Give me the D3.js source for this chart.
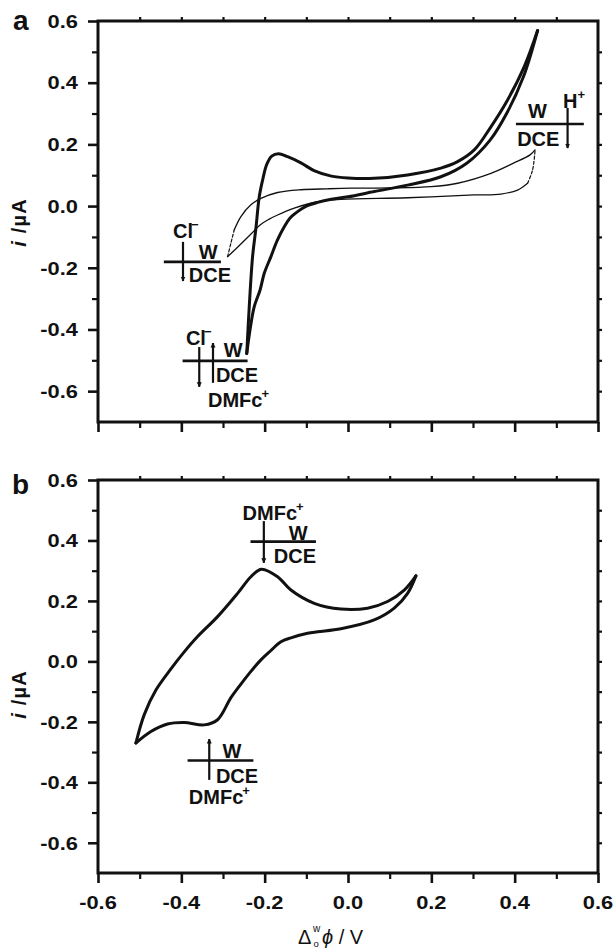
<!DOCTYPE html>
<html><head><meta charset="utf-8">
<script src="https://cdn.jsdelivr.net/npm/d3@7"></script>
<style>
body{margin:0;background:#fff}
svg{display:block}
text{font-family:"Liberation Sans",Arial,Helvetica,sans-serif;fill:#111}
</style></head><body>
<svg id="chart" width="615" height="950"></svg>
<script>
// ---------------- data ----------------
const xMajor = [-0.6, -0.4, -0.2, 0.0, 0.2, 0.4, 0.6];
const xMinor = [-0.5, -0.3, -0.1, 0.1, 0.3, 0.5];
const yMajor = [0.6, 0.4, 0.2, 0.0, -0.2, -0.4, -0.6];
const yMinor = [0.5, 0.3, 0.1, -0.1, -0.3, -0.5];
const xFine = [-0.5, -0.4, -0.3, -0.2, -0.1, 0.0, 0.1, 0.2, 0.3, 0.4, 0.5];
const yFine = [0.5, 0.4, 0.3, 0.2, 0.1, 0.0, -0.1, -0.2, -0.3, -0.4, -0.5, -0.6];
const xTickLabels = ["-0.6", "-0.4", "-0.2", "0.0", "0.2", "0.4", "0.6"];
const yTickLabels = ["0.6", "0.4", "0.2", "0.0", "-0.2", "-0.4", "-0.6"];

// panel a: thick CV (with DMFc), forward and reverse scans
const aThickFwdE = [-0.243, -0.237, -0.229, -0.221, -0.213, -0.204, -0.195, -0.183, -0.167, -0.145, -0.113, -0.080, -0.040, 0.000, 0.063, 0.143, 0.223, 0.263, 0.303, 0.343, 0.383, 0.423, 0.455];
const aThickFwdI = [-0.478, -0.326, -0.164, -0.072, 0.030, 0.090, 0.135, 0.162, 0.170, 0.160, 0.140, 0.114, 0.097, 0.091, 0.090, 0.101, 0.123, 0.144, 0.182, 0.257, 0.344, 0.452, 0.569];
const aThickRevE = [0.455, 0.421, 0.381, 0.341, 0.285, 0.223, 0.143, 0.063, 0.000, -0.040, -0.073, -0.100, -0.121, -0.140, -0.153, -0.170, -0.185, -0.201, -0.211, -0.225, -0.235, -0.243];
const aThickRevI = [0.569, 0.419, 0.301, 0.214, 0.139, 0.095, 0.068, 0.047, 0.030, 0.022, 0.012, 0.000, -0.018, -0.040, -0.067, -0.112, -0.164, -0.218, -0.272, -0.326, -0.400, -0.478];
// panel a: thin CV (blank), upper and lower branches
const aThinUpE = [-0.289, -0.281, -0.273, -0.257, -0.233, -0.209, -0.169, -0.113, -0.050, 0.007, 0.100, 0.200, 0.263, 0.343, 0.397, 0.437, 0.449];
const aThinUpI = [-0.164, -0.120, -0.077, -0.034, 0.004, 0.025, 0.044, 0.053, 0.056, 0.058, 0.059, 0.063, 0.074, 0.106, 0.139, 0.166, 0.182];
const aThinLoE = [-0.289, -0.270, -0.251, -0.231, -0.211, -0.190, -0.169, -0.129, -0.073, -0.017, 0.143, 0.303, 0.367, 0.407, 0.431, 0.443, 0.449];
const aThinLoI = [-0.164, -0.140, -0.115, -0.088, -0.061, -0.043, -0.029, -0.007, 0.014, 0.022, 0.027, 0.036, 0.039, 0.052, 0.074, 0.117, 0.182];

// panel b: CV forward and reverse
const bFwdE = [-0.509, -0.489, -0.461, -0.425, -0.395, -0.361, -0.313, -0.265, -0.233, -0.208, -0.169, -0.137, -0.081, -0.017, 0.047, 0.095, 0.135, 0.163];
const bFwdI = [-0.270, -0.176, -0.095, -0.025, 0.028, 0.082, 0.148, 0.225, 0.280, 0.305, 0.280, 0.236, 0.192, 0.173, 0.176, 0.198, 0.236, 0.283];
const bRevE = [0.163, 0.143, 0.111, 0.063, -0.017, -0.073, -0.097, -0.137, -0.161, -0.185, -0.209, -0.233, -0.257, -0.281, -0.313, -0.345, -0.393, -0.433, -0.473, -0.509];
const bRevI = [0.283, 0.225, 0.176, 0.137, 0.108, 0.098, 0.093, 0.078, 0.065, 0.036, 0.005, -0.033, -0.075, -0.120, -0.193, -0.210, -0.202, -0.207, -0.232, -0.270];

// ---------------- setup ----------------
const svg = d3.select("#chart");
const x = d3.scaleLinear().domain([-0.6, 0.6]).range([98, 598]);
const yA = d3.scaleLinear().domain([-0.7, 0.6]).range([422, 21]);
const yB = d3.scaleLinear().domain([-0.7, 0.6]).range([873, 480]);

const defs = svg.append("defs");
defs.append("marker").attr("id", "ah").attr("viewBox", "0 0 10 10")
  .attr("refX", 9).attr("refY", 5).attr("markerWidth", 5).attr("markerHeight", 9)
  .attr("markerUnits", "userSpaceOnUse").attr("orient", "auto")
  .append("path").attr("d", "M0,0 L10,5 L0,10 Z").attr("fill", "#111");

const lineGen = y => d3.line().x(d => x(d[0])).y(d => y(d[1])).curve(d3.curveCatmullRom.alpha(0.5));

function drawCurve(g, y, pts, w, dash) {
  g.append("path").attr("d", lineGen(y)(pts)).attr("fill", "none")
    .attr("stroke", "#111").attr("stroke-width", w)
    .attr("stroke-linejoin", "round").attr("stroke-linecap", "round")
    .attr("stroke-dasharray", dash || null);
}

function drawFrame(y, showXLabels) {
  const g = svg.append("g");
  const [top, bottom] = [y(0.6), y(-0.7)];
  const lMaj = g.append("g").attr("transform", `translate(${x(-0.6)},0)`)
    .call(d3.axisLeft(y).tickValues(yMajor).tickSize(10).tickSizeOuter(0).tickFormat(""));
  const lMin = g.append("g").attr("transform", `translate(${x(-0.6)},0)`)
    .call(d3.axisLeft(y).tickValues(yMinor).tickSize(6).tickSizeOuter(0).tickFormat(""));
  const bMaj = g.append("g").attr("transform", `translate(0,${bottom})`)
    .call(d3.axisBottom(x).tickValues(xMajor).tickSize(10).tickSizeOuter(0).tickFormat(""));
  const bMin = g.append("g").attr("transform", `translate(0,${bottom})`)
    .call(d3.axisBottom(x).tickValues(xMinor).tickSize(6).tickSizeOuter(0).tickFormat(""));
  const rt = g.append("g").attr("transform", `translate(${x(0.6)},0)`)
    .call(d3.axisRight(y).tickValues(yFine).tickSize(4).tickSizeOuter(0).tickFormat(""));
  const tp = g.append("g").attr("transform", `translate(0,${top})`)
    .call(d3.axisTop(x).tickValues(xFine).tickSize(4).tickSizeOuter(0).tickFormat(""));
  g.selectAll(".domain").remove();
  g.selectAll(".tick line").attr("stroke", "#111").attr("stroke-width", 2.6);
  [lMin, bMin, rt, tp].forEach(s => s.selectAll(".tick line").attr("stroke-width", 2.2));
  g.append("rect").attr("x", x(-0.6)).attr("y", top)
    .attr("width", x(0.6) - x(-0.6)).attr("height", bottom - top)
    .attr("fill", "none").attr("stroke", "#111").attr("stroke-width", 3);
  yMajor.forEach((v, k) => {
    g.append("text").attr("transform", `translate(78,${y(v) + 6.8}) scale(1.15,1)`)
      .attr("text-anchor", "end").attr("font-size", 19).attr("font-weight", "bold")
      .text(yTickLabels[k]);
  });
  if (showXLabels) {
    xMajor.forEach((v, k) => {
      g.append("text").attr("transform", `translate(${x(v)},${bottom + 35.5}) scale(1.15,1)`)
        .attr("text-anchor", "middle").attr("font-size", 19).attr("font-weight", "bold")
        .text(xTickLabels[k]);
    });
  }
  const yt = g.append("text")
    .attr("transform", `translate(26,${(top + bottom) / 2 + (showXLabels ? 18 : 1)}) rotate(-90)`)
    .attr("text-anchor", "middle").attr("font-size", 20).attr("font-weight", "bold")
    .attr("letter-spacing", 1.2);
  yt.append("tspan").attr("font-style", "italic").text("i");
  yt.append("tspan").text(" /\u00b5A");
  return g;
}

function label(y, e, i, str, sup, supDx, supDy) {
  const t = svg.append("text").attr("x", x(e)).attr("y", y(i))
    .attr("font-size", 20).attr("font-weight", "bold").text(str);
  if (sup) t.append("tspan").attr("font-size", 13).attr("dx", supDx).attr("dy", supDy).text(sup);
}
function hline(y, e1, e2, i) {
  svg.append("line").attr("x1", x(e1)).attr("x2", x(e2)).attr("y1", y(i)).attr("y2", y(i))
    .attr("stroke", "#111").attr("stroke-width", 2.6);
}
function arrow(y, e, i1, i2) {
  svg.append("line").attr("x1", x(e)).attr("x2", x(e)).attr("y1", y(i1)).attr("y2", y(i2))
    .attr("stroke", "#111").attr("stroke-width", 2.2).attr("marker-end", "url(#ah)");
}

// ---------------- panel a ----------------
const gA = svg.append("g");
const zip = (a, b) => a.map((v, k) => [v, b[k]]);
const thinUp = zip(aThinUpE, aThinUpI), thinLo = zip(aThinLoE, aThinLoI);
drawCurve(gA, yA, thinUp.slice(2), 1.3);
drawCurve(gA, yA, thinUp.slice(0, 3), 1.2, "3,2");
drawCurve(gA, yA, thinLo.slice(0, 15), 1.3);
drawCurve(gA, yA, thinLo.slice(14), 1.2, "3,2");
drawCurve(gA, yA, zip(aThickFwdE, aThickFwdI), 3);
drawCurve(gA, yA, zip(aThickRevE, aThickRevI), 3);
drawFrame(yA, false);

label(yA, -0.420, -0.103, "Cl", "\u2212", -2, -9);
arrow(yA, -0.396, -0.116, -0.243);
hline(yA, -0.442, -0.305, -0.181);
label(yA, -0.358, -0.171, "W");
label(yA, -0.382, -0.246, "DCE");

label(yA, -0.389, -0.450, "Cl", "\u2212", -2, -9);
arrow(yA, -0.357, -0.457, -0.586);
arrow(yA, -0.324, -0.573, -0.444);
hline(yA, -0.397, -0.241, -0.502);
label(yA, -0.298, -0.489, "W");
label(yA, -0.317, -0.570, "DCE");
label(yA, -0.336, -0.651, "DMFc", "+", -1, -9);

label(yA, 0.432, 0.286, "W");
hline(yA, 0.403, 0.566, 0.266);
label(yA, 0.406, 0.195, "DCE");
label(yA, 0.516, 0.318, "H", "+", 0, -9);
arrow(yA, 0.527, 0.318, 0.188);

// ---------------- panel b ----------------
const gB = svg.append("g");
drawCurve(gB, yB, zip(bFwdE, bFwdI), 3);
drawCurve(gB, yB, zip(bRevE, bRevI), 3);
drawFrame(yB, true);

label(yB, -0.253, 0.468, "DMFc", "+", -1, -9);
arrow(yB, -0.202, 0.464, 0.326);
hline(yB, -0.234, -0.077, 0.396);
label(yB, -0.142, 0.402, "W");
label(yB, -0.178, 0.326, "DCE");

arrow(yB, -0.333, -0.392, -0.257);
hline(yB, -0.385, -0.227, -0.328);
label(yB, -0.301, -0.320, "W");
label(yB, -0.317, -0.402, "DCE");
label(yB, -0.382, -0.473, "DMFc", "+", -1, -9);

svg.append("text").attr("x", 13).attr("y", 30).attr("font-size", 28).attr("font-weight", "bold").text("a");
svg.append("text").attr("x", 12).attr("y", 494).attr("font-size", 28).attr("font-weight", "bold").text("b");

const xt = svg.append("g");
xt.append("text").attr("x", 298).attr("y", 944).attr("font-size", 20).text("\u0394");
xt.append("text").attr("x", 313).attr("y", 932).attr("font-size", 10).text("w");
xt.append("text").attr("x", 313.5).attr("y", 947).attr("font-size", 9.5).text("o");
const xt2 = xt.append("text").attr("x", 322).attr("y", 944).attr("font-size", 20);
xt2.append("tspan").attr("font-style", "italic").text("\u03d5");
xt2.append("tspan").text(" / V");
</script>
</body></html>
